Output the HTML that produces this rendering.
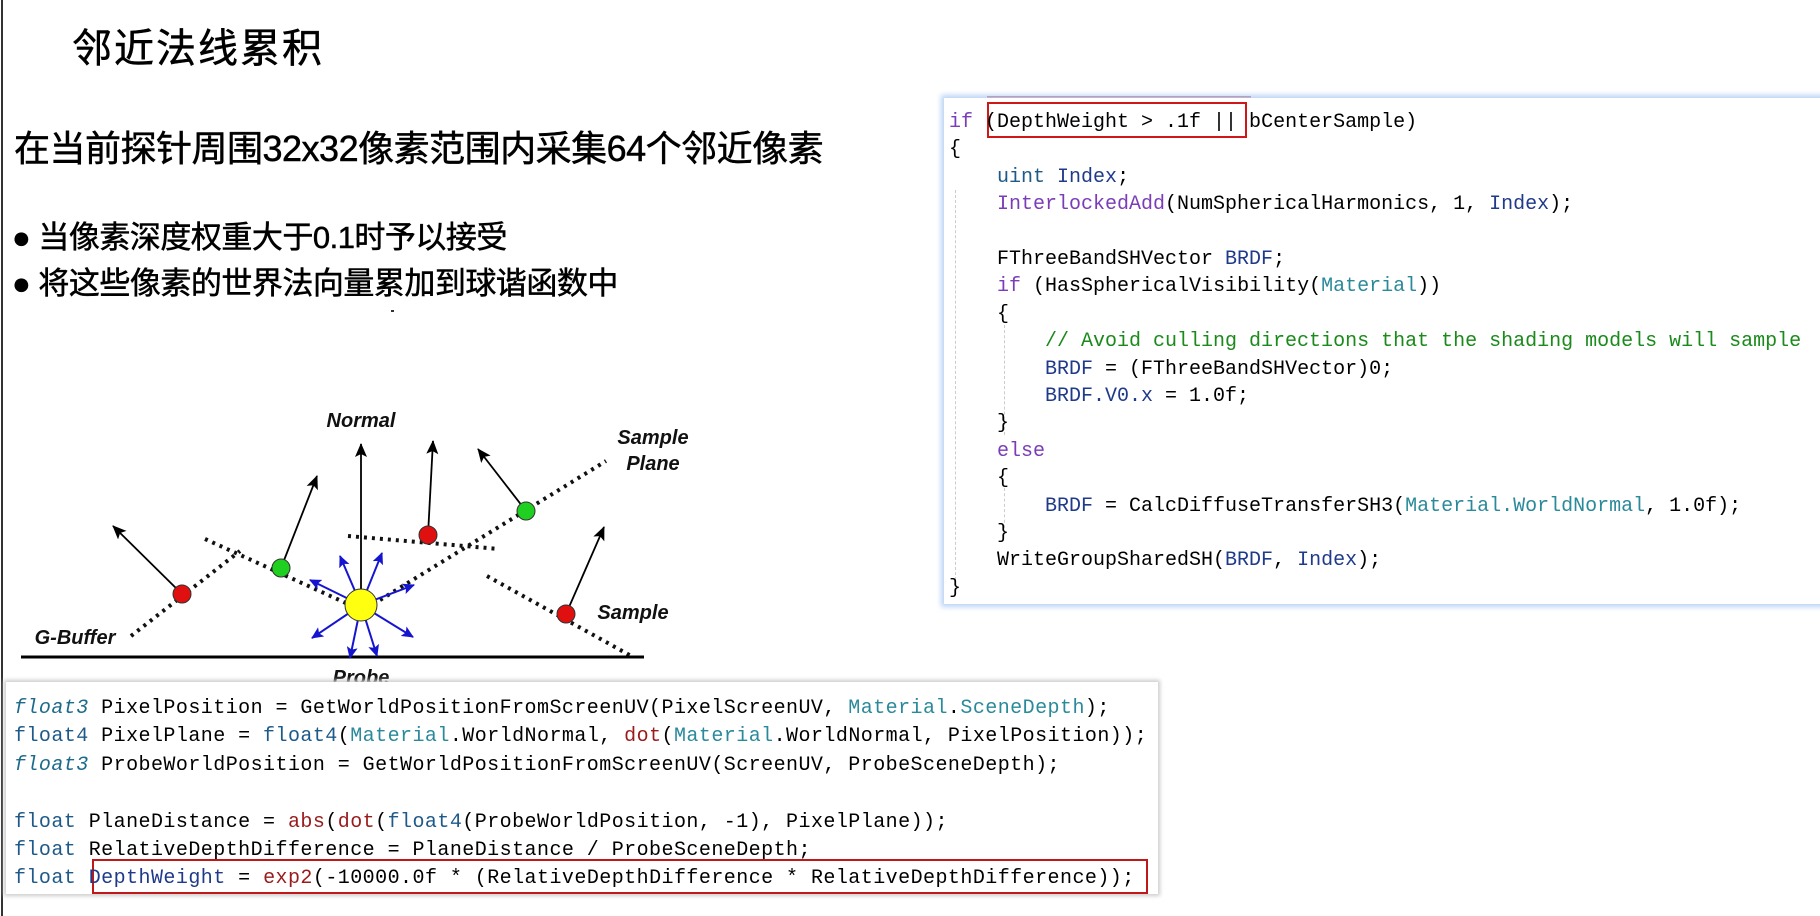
<!DOCTYPE html>
<html><head><meta charset="utf-8"><style>
body{margin:0;width:1820px;height:916px;background:#fff;position:relative;overflow:hidden;font-family:"Liberation Sans","Noto Sans CJK SC",sans-serif}
.t{position:absolute;white-space:nowrap;color:#000;-webkit-text-stroke:0.5px #000}
.code{position:absolute;font-family:"Liberation Mono",monospace;white-space:pre;color:#000}
.code div{position:absolute;left:0}
.kw{color:#7a3cb8}.id{color:#1f3a8a}.ma{color:#2b8a9a}.cm{color:#1a8a1a}.fl{color:#1d5a8a}.fn{color:#9a1b1b}.it{font-style:italic;color:#1d6a8a}
</style></head><body>
<div style="position:absolute;left:1px;top:0;width:2px;height:916px;background:#333"></div>
<div class="t" style="left:72px;top:16px;font-size:40px;letter-spacing:2px">邻近法线累积</div>
<div class="t" style="left:14px;top:120px;font-size:36px;letter-spacing:-0.5px">在当前探针周围32x32像素范围内采集64个邻近像素</div>
<div class="t" style="left:12px;top:212px;font-size:31px;letter-spacing:-0.5px">● 当像素深度权重大于0.1时予以接受</div>
<div class="t" style="left:12px;top:258px;font-size:31px;letter-spacing:-0.5px">● 将这些像素的世界法向量累加到球谐函数中</div>
<div style="position:absolute;left:391px;top:310px;width:3px;height:2px;background:#333"></div>

<svg style="position:absolute;left:0;top:0" width="1820" height="916">
<defs>
<marker id="ab" markerWidth="14" markerHeight="12" refX="13" refY="6" orient="auto" markerUnits="userSpaceOnUse"><path d="M0,0 L14,6 L0,12 L3,6z" fill="#000"/></marker>
<marker id="au" markerWidth="12" markerHeight="11" refX="11" refY="5.5" orient="auto" markerUnits="userSpaceOnUse"><path d="M0,0 L12,5.5 L0,11 L2.5,5.5z" fill="#1515d0"/></marker>
</defs>
<g stroke="#111" stroke-width="4" stroke-dasharray="3,5" fill="none">
<line x1="131" y1="636" x2="240" y2="551"/>
<line x1="205" y1="539" x2="348" y2="604"/>
<line x1="348" y1="536" x2="499" y2="549"/>
<line x1="380" y1="600" x2="606" y2="461"/>
<line x1="487" y1="576" x2="633" y2="657"/>
</g>
<line x1="21" y1="657" x2="644" y2="657" stroke="#000" stroke-width="3"/>
<g stroke="#000" stroke-width="1.8" marker-end="url(#ab)">
<line x1="361" y1="600" x2="361" y2="444"/>
<line x1="182" y1="594" x2="113" y2="526"/>
<line x1="281" y1="568" x2="317" y2="476"/>
<line x1="428" y1="535" x2="433" y2="441"/>
<line x1="526" y1="511" x2="478" y2="449"/>
<line x1="566" y1="614" x2="604" y2="527"/>
</g>
<g stroke="#1515d0" stroke-width="2" marker-end="url(#au)">
<line x1="361" y1="605" x2="340" y2="556"/>
<line x1="361" y1="605" x2="382" y2="553"/>
<line x1="361" y1="605" x2="310" y2="580"/>
<line x1="361" y1="605" x2="414" y2="585"/>
<line x1="361" y1="605" x2="312" y2="638"/>
<line x1="361" y1="605" x2="350" y2="658"/>
<line x1="361" y1="605" x2="377" y2="656"/>
<line x1="361" y1="605" x2="413" y2="637"/>
</g>
<circle cx="361" cy="605" r="16" fill="#ffff10" stroke="#333" stroke-width="1"/>
<g stroke="#333" stroke-width="1">
<circle cx="182" cy="594" r="9" fill="#e01010"/>
<circle cx="428" cy="535" r="9" fill="#e01010"/>
<circle cx="566" cy="614" r="9" fill="#e01010"/>
<circle cx="281" cy="568" r="9" fill="#20d020"/>
<circle cx="526" cy="511" r="9" fill="#20d020"/>
</g>
<g font-family="Liberation Sans" font-style="italic" font-weight="bold" font-size="20" fill="#111">
<text x="361" y="427" text-anchor="middle">Normal</text>
<text x="653" y="444" text-anchor="middle">Sample</text>
<text x="653" y="470" text-anchor="middle">Plane</text>
<text x="633" y="619" text-anchor="middle">Sample</text>
<text x="75" y="644" text-anchor="middle">G-Buffer</text>
<text x="361" y="684" text-anchor="middle">Probe</text>
</g>
</svg>

<div style="position:absolute;left:987px;top:96px;width:264px;height:2px;background:#b02030"></div>
<div style="position:absolute;left:944px;top:98px;width:880px;height:506px;background:#fff;box-shadow:0 0 5px 3px #bcd4f5"></div>
<div style="position:absolute;left:987px;top:102px;width:260px;height:36px;border:2px solid #d01818;box-sizing:border-box"></div>
<div style="position:absolute;left:955px;top:190px;height:390px;border-left:1px dashed #ccc"></div>
<div style="position:absolute;left:1004px;top:325px;height:110px;border-left:1px dashed #ccc"></div>
<div style="position:absolute;left:1004px;top:488px;height:40px;border-left:1px dashed #ccc"></div>
<div class="code" style="left:949px;top:109px;font-size:20px;line-height:27.4px">
<div style="top:0"><span class="kw">if</span> (DepthWeight &gt; .1f || bCenterSample)</div>
<div style="top:27.4px">{</div>
<div style="top:54.8px">    <span class="fl">uint</span> <span class="id">Index</span>;</div>
<div style="top:82.2px">    <span class="kw">InterlockedAdd</span>(NumSphericalHarmonics, 1, <span class="id">Index</span>);</div>
<div style="top:137px">    FThreeBandSHVector <span class="id">BRDF</span>;</div>
<div style="top:164.4px">    <span class="kw">if</span> (HasSphericalVisibility(<span class="ma">Material</span>))</div>
<div style="top:191.8px">    {</div>
<div style="top:219.2px">        <span class="cm">// Avoid culling directions that the shading models will sample</span></div>
<div style="top:246.6px">        <span class="id">BRDF</span> = (FThreeBandSHVector)0;</div>
<div style="top:274px">        <span class="id">BRDF.V0.x</span> = 1.0f;</div>
<div style="top:301.4px">    }</div>
<div style="top:328.8px">    <span class="kw">else</span></div>
<div style="top:356.2px">    {</div>
<div style="top:383.6px">        <span class="id">BRDF</span> = CalcDiffuseTransferSH3(<span class="ma">Material.WorldNormal</span>, 1.0f);</div>
<div style="top:411px">    }</div>
<div style="top:438.4px">    WriteGroupSharedSH(<span class="id">BRDF</span>, <span class="id">Index</span>);</div>
<div style="top:465.8px">}</div>
</div>

<div style="position:absolute;left:6px;top:682px;width:1152px;height:212px;background:#fff;box-shadow:0 0 4px 2px #ccc"></div>
<div style="position:absolute;left:92px;top:859px;width:1056px;height:35px;border:2px solid #c01818;box-sizing:border-box"></div>
<div class="code" style="left:14px;top:695px;font-size:20px;letter-spacing:0.45px;line-height:28.4px">
<div style="top:0"><span class="it">float3</span> PixelPosition = GetWorldPositionFromScreenUV(PixelScreenUV, <span class="ma">Material</span>.<span class="ma">SceneDepth</span>);</div>
<div style="top:28.4px"><span class="fl">float4</span> PixelPlane = <span class="fl">float4</span>(<span class="ma">Material</span>.WorldNormal, <span class="fn">dot</span>(<span class="ma">Material</span>.WorldNormal, PixelPosition));</div>
<div style="top:56.8px"><span class="it">float3</span> ProbeWorldPosition = GetWorldPositionFromScreenUV(ScreenUV, ProbeSceneDepth);</div>
<div style="top:113.6px"><span class="fl">float</span> PlaneDistance = <span class="fn">abs</span>(<span class="fn">dot</span>(<span class="fl">float4</span>(ProbeWorldPosition, -1), PixelPlane));</div>
<div style="top:142px"><span class="fl">float</span> RelativeDepthDifference = PlaneDistance / ProbeSceneDepth;</div>
<div style="top:170.4px"><span class="fl">float</span> <span class="id">DepthWeight</span> = <span class="fn">exp2</span>(-10000.0f * (RelativeDepthDifference * RelativeDepthDifference));</div>
</div>
</body></html>
